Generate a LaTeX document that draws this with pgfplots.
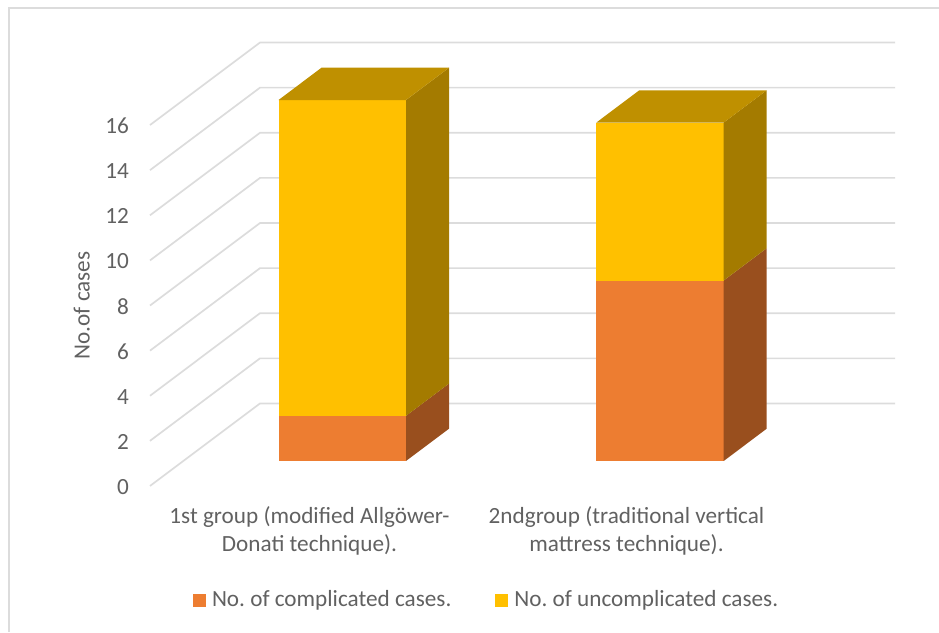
\documentclass[border=0pt]{standalone}
\usepackage{fontspec}
\setmainfont{Carlito}
\usepackage{pgfplots}
\usepackage{pgfplotstable}
\pgfplotsset{compat=1.18}
\frenchspacing

\definecolor{gridgrey}{HTML}{DCDCDC}
\definecolor{textgrey}{HTML}{616161}
\definecolor{orangeF}{HTML}{ED7D31}
\definecolor{orangeS}{HTML}{994F1E}
\definecolor{yellowF}{HTML}{FFC000}
\definecolor{yellowS}{HTML}{A47B00}
\definecolor{yellowT}{HTML}{BF9000}

\newcommand{\chartfont}{\fontsize{23.2}{27.7}\selectfont}

% Floor-to-back-wall path of one gridline: x position and shift in value units
\pgfplotstableread[row sep=\\]{
x d\\
150 -1.108\\
260 2.549\\
895 2.549\\
}\wallpath

% One stacked segment: x-left, x-right, low, high, front colour, side colour
\newcommand{\barseg}[6]{%
  \pgfmathsetmacro{\xb}{#2+43}%
  \pgfmathsetmacro{\lb}{#3+1.432}%
  \pgfmathsetmacro{\hb}{#4+1.432}%
  \edef\next{%
    \noexpand\addplot[fill=#5,draw=none,forget plot] coordinates {(#1,#3)(#2,#3)(#2,#4)(#1,#4)} -- cycle;
    \noexpand\addplot[fill=#6,draw=none,forget plot] coordinates {(#2,#3)(\xb,\lb)(\xb,\hb)(#2,#4)} -- cycle;
  }\next}
% Top face of a stack
\newcommand{\bartop}[3]{%
  \pgfmathsetmacro{\xa}{#1+43}%
  \pgfmathsetmacro{\xb}{#2+43}%
  \pgfmathsetmacro{\hb}{#3+1.432}%
  \edef\next{%
    \noexpand\addplot[fill=yellowT,draw=none,forget plot] coordinates {(#1,#3)(#2,#3)(\xb,\hb)(\xa,\hb)} -- cycle;
  }\next}

\begin{document}
\begin{tikzpicture}
\path[use as bounding box] (0,0) rectangle (939pt,632pt);
\begin{axis}[
  at={(0,0)}, anchor=south west,
  scale only axis, width=939pt, height=632pt,
  xmin=0, xmax=939, ymin=-7.580, ymax=20.434,
  hide axis, clip=false,
  legend columns=2,
  legend style={
    at={(193pt,33pt)}, anchor=west, draw=none, fill=none,
    inner sep=0pt, outer sep=0pt,
    font=\chartfont, text=textgrey,
    /tikz/every even column/.append style={column sep=44pt},
    nodes={inner sep=0pt, anchor=base west},
  },
  legend image code/.code={\fill[#1,draw=none] (0pt,-1pt) rectangle (13pt,12pt);},
]
% chart frame
\addplot[gridgrey,line width=1.6pt,forget plot] coordinates {(9,-7.58)(9,20.08)(939,20.08)};
% gridlines
\pgfplotsinvokeforeach{0,2,4,6,8,10,12,14,16}{
  \addplot[gridgrey,line width=1.7pt,forget plot] table[x=x,y expr=#1+\thisrow{d}] {\wallpath};
}
% first group: 2 complicated, 14 uncomplicated
\barseg{278.5}{406}{0}{2}{orangeF}{orangeS}
\barseg{278.5}{406}{2}{16}{yellowF}{yellowS}
\bartop{278.5}{406}{16}
% second group: 8 complicated, 7 uncomplicated
\barseg{596.3}{723.7}{0}{8}{orangeF}{orangeS}
\barseg{596.3}{723.7}{8}{15}{yellowF}{yellowS}
\bartop{596.3}{723.7}{15}
% legend
\addlegendimage{fill=orangeF}
\addlegendentry{\hspace{6pt}No. of complicated cases.}
\addlegendimage{fill=yellowF}
\addlegendentry{\hspace{6pt}No. of uncomplicated cases.}
% category labels
\node[font=\chartfont,text=textgrey,align=center,anchor=center] at (axis cs:309.5,-3.09)
  {1st group (modified Allgöwer-\\Donati technique).};
\node[font=\chartfont,text=textgrey,align=center,anchor=center] at (axis cs:626.5,-3.09)
  {2ndgroup (traditional vertical\\mattress technique).};
\end{axis}
% value scale along the front edge of the side wall
\begin{axis}[
  at={(150pt,146pt)}, anchor=south west,
  scale only axis, width=10pt, height=361pt,
  xmin=0, xmax=1, ymin=0, ymax=16,
  axis x line=none, axis y line*=left,
  axis line style={draw=none},
  ytick={0,2,4,6,8,10,12,14,16}, xtick=\empty,
  major tick length=0pt,
  /pgf/number format/assume math mode=true,
  yticklabel style={font=\chartfont,text=textgrey,inner sep=0pt,anchor=east,xshift=-21pt,yshift=-1pt},
  ylabel={No.of cases},
  ylabel style={font=\chartfont,text=textgrey,xshift=0pt,yshift=12pt},
]
\addplot[draw=none] coordinates {(0,0)(1,16)};
\end{axis}
\end{tikzpicture}
\end{document}
